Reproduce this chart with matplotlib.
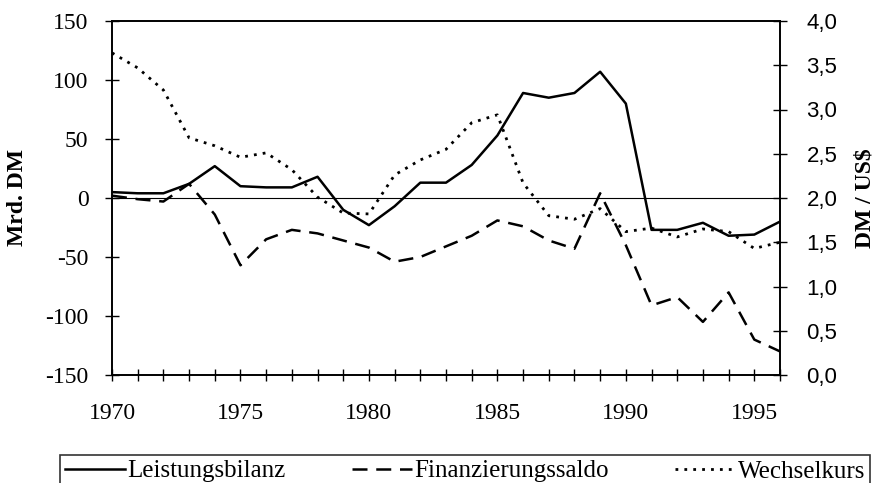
import numpy as np
import matplotlib.pyplot as plt
from matplotlib.ticker import FuncFormatter

# DATA
years = list(range(1970, 1997))
leistungsbilanz = [5, 4, 4, 12, 27, 10, 9, 9, 18, -10, -23, -7, 13, 13,
                   28, 53, 89, 85, 89, 107, 80, -27, -27, -21, -32, -31, -20]
finanzierungssaldo = [2, -1, -3, 12, -14, -57, -35, -27, -30, -36, -42, -54, -50, -41,
                      -32, -19, -24, -36, -43, 4, -40, -91, -84, -105, -80, -120, -130]
wechselkurs = [3.64, 3.47, 3.22, 2.68, 2.59, 2.46, 2.51, 2.32, 2.01, 1.83, 1.82, 2.26, 2.43, 2.55,
               2.85, 2.94, 2.17, 1.80, 1.76, 1.88, 1.62, 1.66, 1.56, 1.65, 1.62, 1.43, 1.50]

serif = 'Liberation Serif'
sans = 'Liberation Sans'

fig = plt.figure(figsize=(8.74, 4.83), dpi=100)
ax = fig.add_axes([112/874, 1-375/483, (780-112)/874, (375-21)/483])
ax2 = ax.twinx()

l1, = ax.plot(years, leistungsbilanz, color='black', lw=1.8, label='Leistungsbilanz')
l2, = ax.plot(years, finanzierungssaldo, color='black', lw=1.8, ls=(0, (6, 3.5)),
              label='Finanzierungssaldo')
l3, = ax2.plot(years, wechselkurs, color='black', lw=2.0, ls=(0, (1, 2.2)),
               label='Wechselkurs')
ax.axhline(0, color='black', lw=0.8)

ax.set_xlim(1970, 1996)
ax.set_ylim(-150, 150)
ax2.set_ylim(0, 4)
ax.set_xticks(range(1970, 1997))
ax.set_xticklabels([str(y) if y % 5 == 0 else '' for y in years], fontfamily=serif, fontsize=17)
ax.set_yticks(range(-150, 151, 50))
ax.set_yticklabels([str(v) for v in range(-150, 151, 50)], fontfamily=serif, fontsize=17)
ax2.set_yticks(np.arange(0, 4.01, 0.5))
ax2.yaxis.set_major_formatter(FuncFormatter(lambda v, p: ('%.1f' % v).replace('.', ',')))
for t in ax2.get_yticklabels():
    t.set_fontfamily(sans)
    t.set_fontsize(16)

ax.tick_params(axis='y', direction='inout', length=10, width=1, pad=12)
ax.tick_params(axis='x', direction='inout', length=8, width=1, pad=16)
ax2.tick_params(axis='y', direction='inout', length=10, width=1, pad=14)
for a in (ax, ax2):
    for s in a.spines.values():
        s.set_linewidth(1.2)

ax.set_ylabel('Mrd. DM', fontfamily=serif, fontsize=17, fontweight='bold', labelpad=12)
ax2.set_ylabel('DM / US$', fontfamily=serif, fontsize=17, fontweight='bold', labelpad=12)

leg = fig.legend(handles=[l1, l2, l3], loc='upper left',
                 bbox_to_anchor=(60/874, 0, 810/874, 1-455/483), mode='expand',
                 ncol=3, frameon=True, fancybox=False, edgecolor='black',
                 prop={'family': serif, 'size': 18}, handlelength=2.4, handletextpad=0.1,
                 borderpad=0.2, borderaxespad=0, columnspacing=1.5)
leg.get_frame().set_linewidth(1.2)

fig.savefig('out.png', dpi=100)
